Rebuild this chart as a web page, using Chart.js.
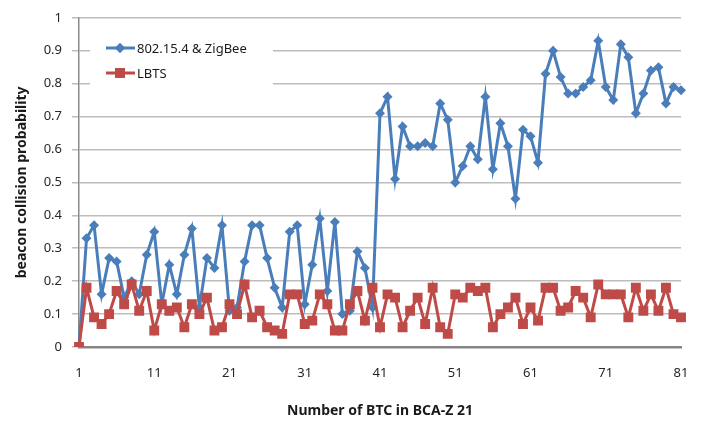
<!DOCTYPE html>
<html>
<head>
<meta charset="utf-8">
<script src="https://cdn.jsdelivr.net/npm/chart.js@4/dist/chart.umd.min.js"></script>
<style>
  html, body { margin: 0; padding: 0; background: #fff; }
  #wrap { width: 701px; height: 421px; position: relative; }
</style>
</head>
<body>
<div id="wrap"><canvas id="chart" width="701" height="421"></canvas></div>
<script>
// x categories (BTC count)
const btcLabels = [
    1, 2, 3, 4, 5, 6, 7, 8, 9, 10,
    11, 12, 13, 14, 15, 16, 17, 18, 19, 20,
    21, 22, 23, 24, 25, 26, 27, 28, 29, 30,
    31, 32, 33, 34, 35, 36, 37, 38, 39, 40,
    41, 42, 43, 44, 45, 46, 47, 48, 49, 50,
    51, 52, 53, 54, 55, 56, 57, 58, 59, 60,
    61, 62, 63, 64, 65, 66, 67, 68, 69, 70,
    71, 72, 73, 74, 75, 76, 77, 78, 79, 80,
    81
];

// 802.15.4 & ZigBee collision probability
const zigbeeValues = [
    0, 0.33, 0.37, 0.16, 0.27, 0.26, 0.15, 0.20, 0.16, 0.28,
    0.35, 0.13, 0.25, 0.16, 0.28, 0.36, 0.12, 0.27, 0.24, 0.37,
    0.11, 0.12, 0.26, 0.37, 0.37, 0.27, 0.18, 0.12, 0.35, 0.37,
    0.13, 0.25, 0.39, 0.17, 0.38, 0.10, 0.11, 0.29, 0.24, 0.12,
    0.71, 0.76, 0.51, 0.67, 0.61, 0.61, 0.62, 0.61, 0.74, 0.69,
    0.50, 0.55, 0.61, 0.57, 0.76, 0.54, 0.68, 0.61, 0.45, 0.66,
    0.64, 0.56, 0.83, 0.90, 0.82, 0.77, 0.77, 0.79, 0.81, 0.93,
    0.79, 0.75, 0.92, 0.88, 0.71, 0.77, 0.84, 0.85, 0.74, 0.79,
    0.78
];

// LBTS collision probability
const lbtsValues = [
    0, 0.18, 0.09, 0.07, 0.10, 0.17, 0.13, 0.19, 0.11, 0.17,
    0.05, 0.13, 0.11, 0.12, 0.06, 0.13, 0.10, 0.15, 0.05, 0.06,
    0.13, 0.10, 0.19, 0.09, 0.11, 0.06, 0.05, 0.04, 0.16, 0.16,
    0.07, 0.08, 0.16, 0.13, 0.05, 0.05, 0.13, 0.17, 0.08, 0.18,
    0.06, 0.16, 0.15, 0.06, 0.11, 0.15, 0.07, 0.18, 0.06, 0.04,
    0.16, 0.15, 0.18, 0.17, 0.18, 0.06, 0.10, 0.12, 0.15, 0.07,
    0.12, 0.08, 0.18, 0.18, 0.11, 0.12, 0.17, 0.15, 0.09, 0.19,
    0.16, 0.16, 0.16, 0.09, 0.18, 0.11, 0.16, 0.11, 0.18, 0.10,
    0.09
];

const BLUE = '#4a7ebb';
const RED = '#be4b48';
const FONT = "'Noto Sans', 'DejaVu Sans', sans-serif";

// legend drawn inside the plot area (top-left), like the original
const insideLegend = {
    id: 'insideLegend',
    afterDatasetsDraw(chart) {
        const ctx = chart.ctx;
        const items = [
            { text: '802.15.4 & ZigBee', color: BLUE, y: 48, style: 'rectRot', r: 5 },
            { text: 'LBTS', color: RED, y: 73, style: 'rect', r: 7 }
        ];
        ctx.save();
        ctx.fillStyle = '#ffffff';
        ctx.fillRect(90, 32, 183, 56);
        items.forEach(it => {
            ctx.strokeStyle = it.color;
            ctx.lineWidth = 3;
            ctx.beginPath();
            ctx.moveTo(106, it.y);
            ctx.lineTo(135, it.y);
            ctx.stroke();
            ctx.fillStyle = it.color;
            Chart.helpers.drawPoint(ctx, { pointStyle: it.style, radius: it.r, borderWidth: 0 }, 120, it.y);
            ctx.fill();
            ctx.fillStyle = '#1a1a1a';
            ctx.font = '13px ' + FONT;
            ctx.textBaseline = 'middle';
            ctx.fillText(it.text, 137, it.y + 1);
        });
        ctx.restore();
    }
};

new Chart(document.getElementById('chart'), {
    type: 'line',
    data: {
        labels: btcLabels,
        datasets: [{
            label: '802.15.4 & ZigBee',
            data: zigbeeValues,
            borderColor: BLUE,
            backgroundColor: BLUE,
            borderWidth: 3,
            pointStyle: 'rectRot',
            pointRadius: 5,
            pointBorderWidth: 0,
            tension: 0,
            order: 1
        }, {
            label: 'LBTS',
            data: lbtsValues,
            borderColor: RED,
            backgroundColor: RED,
            borderWidth: 3,
            pointStyle: 'rect',
            pointRadius: 7,
            pointBorderWidth: 0,
            tension: 0,
            order: 0
        }]
    },
    options: {
        responsive: false,
        animation: false,
        layout: { padding: { top: 15, right: 20, left: 0, bottom: 0 } },
        plugins: {
            legend: { display: false },
            tooltip: { enabled: false }
        },
        scales: {
            x: {
                offset: false,
                grid: { display: false, drawTicks: false },
                border: { color: '#858585', width: 2.5 },
                ticks: {
                    autoSkip: false,
                    maxRotation: 0,
                    padding: 18,
                    color: '#262626',
                    font: { family: FONT, size: 13 },
                    callback: function(val, idx) {
                        return idx % 10 === 0 ? this.getLabelForValue(val) : '';
                    }
                },
                title: {
                    display: true,
                    text: 'Number of BTC in BCA-Z 21',
                    color: '#1a1a1a',
                    font: { family: FONT, size: 14, weight: 'bold' },
                    padding: { top: 0, bottom: 2 }
                },
                afterFit: s => {
                    s.height = 74;
                    s.paddingLeft = 0;
                    s.paddingRight = 0;
                }
            },
            y: {
                min: 0,
                max: 1,
                ticks: {
                    stepSize: 0.1,
                    padding: 10,
                    color: '#262626',
                    font: { family: FONT, size: 13 },
                    callback: v => Math.round(v * 10) / 10
                },
                grid: { color: '#bdbdbd', lineWidth: 1.5, tickLength: 7 },
                border: { color: '#8a8a8a', width: 1.5 },
                title: {
                    display: true,
                    text: 'beacon collision probability',
                    color: '#1a1a1a',
                    font: { family: FONT, size: 14, weight: 'bold' },
                    padding: { top: 14, bottom: 0 }
                },
                afterFit: s => { s.width = 79; }
            }
        }
    },
    plugins: [insideLegend]
});
</script>
</body>
</html>
